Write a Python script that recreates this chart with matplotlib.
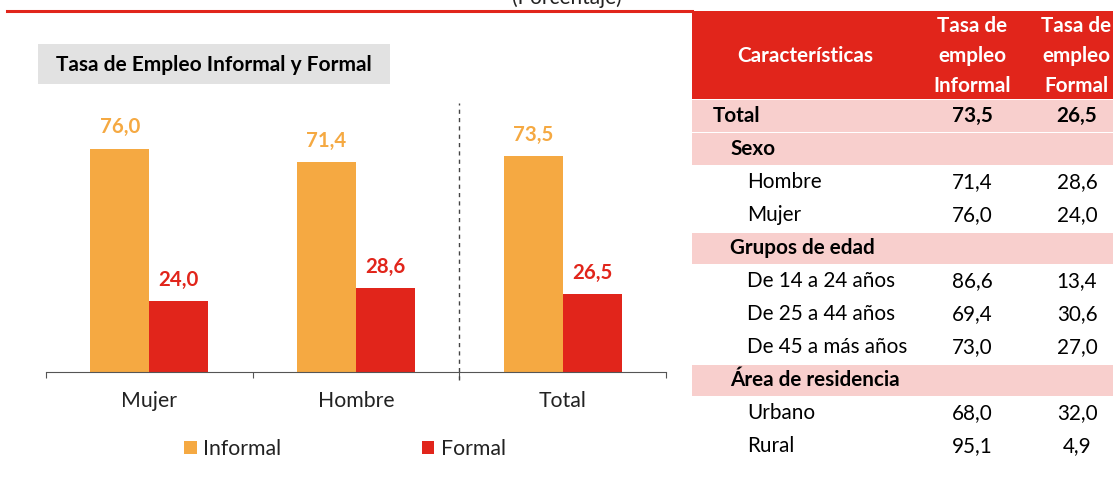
import matplotlib.pyplot as plt
import matplotlib.patches as mpatches
from matplotlib.lines import Line2D
import numpy as np

plt.rcParams['font.family'] = ['Lato', 'DejaVu Sans']

# Data
categories = ['Mujer', 'Hombre', 'Total']
informal = [76.0, 71.4, 73.5]
formal = [24.0, 28.6, 26.5]

row_labels = ['Total', 'Sexo', 'Hombre', 'Mujer', 'Grupos de edad', 'De 14 a 24 años',
              'De 25 a 44 años', 'De 45 a más años', 'Área de residencia', 'Urbano', 'Rural']
row_kind = ['total', 'group', 'item', 'item', 'group', 'item', 'item', 'item', 'group', 'item', 'item']
tab_informal = [73.5, None, 71.4, 76.0, None, 86.6, 69.4, 73.0, None, 68.0, 95.1]
tab_formal = [26.5, None, 28.6, 24.0, None, 13.4, 30.6, 27.0, None, 32.0, 4.9]

ORANGE = '#F5A942'
RED = '#E1251B'
PINK = '#F8CFCD'
GRAY = '#E2E2E2'

W, H = 1115, 484
def fx(x):
    return x / W
def fy(y):
    return 1 - y / H
def fmt(v):
    return f'{v:.1f}'.replace('.', ',')

fig = plt.figure(figsize=(W / 100, H / 100), dpi=100)

# top rule and subtitle (cut by the top edge, as in the source)
fig.add_artist(Line2D([fx(7), fx(692)], [fy(11), fy(11)], color=RED, lw=2.2))
fig.text(fx(567), fy(-2), '(Porcentaje)', ha='center', va='center', fontsize=15, color='#222222')

# title box
fig.add_artist(mpatches.Rectangle((fx(38), fy(84)), fx(390) - fx(38), fy(44) - fy(84),
                                  transform=fig.transFigure, color=GRAY, lw=0))
fig.text(fx(214), fy(65), 'Tasa de Empleo Informal y Formal', ha='center', va='center',
         fontsize=15, fontweight='bold', color='black')

# bar chart
ax = fig.add_axes([fx(46), fy(372), (666 - 46) / W, (372 - 100) / H])
x = np.arange(len(categories))
width = 0.285
bars1 = ax.bar(x - width / 2, informal, width, color=ORANGE, label='Informal')
bars2 = ax.bar(x + width / 2, formal, width, color=RED, label='Formal')
ax.set_xlim(-0.5, 2.5)
ax.set_ylim(0, 92.5)
for s in ['top', 'left', 'right']:
    ax.spines[s].set_visible(False)
ax.spines['bottom'].set_color('#555555')
ax.set_yticks([])
ax.set_xticks([-0.5, 0.5, 1.5, 2.5])
ax.set_xticklabels([])
ax.tick_params(axis='x', which='major', length=4.5, color='#555555', direction='out')
ax.set_xticks(x, minor=True)
ax.set_xticklabels(categories, minor=True, fontsize=15.3, color='#222222')
ax.tick_params(axis='x', which='minor', length=0, pad=14)
ax.axvline(1.5, ymin=-0.03, ymax=0.99, color='#444444', lw=1, ls=(0, (3, 3)), clip_on=False)

for bars, col in [(bars1, ORANGE), (bars2, RED)]:
    for bar in bars:
        h = bar.get_height()
        ax.annotate(fmt(h), xy=(bar.get_x() + bar.get_width() / 2, h), xytext=(0, 8),
                    textcoords='offset points', ha='center', va='bottom',
                    fontsize=14.7, fontweight='bold', color=col)

fig.legend(handles=[bars1, bars2], labels=['Informal', 'Formal'], loc='center',
           bbox_to_anchor=(fx(345), fy(449)), ncol=2, frameon=False, fontsize=15.3,
           handlelength=0.6, handleheight=0.6, handletextpad=0.3, columnspacing=6.6,
           labelcolor='#222222')

# table
fig.add_artist(mpatches.Rectangle((fx(692), fy(99)), fx(1113) - fx(692), fy(11) - fy(99),
                                  transform=fig.transFigure, color=RED, lw=0))
fig.text(fx(805), fy(56), 'Características', ha='center', va='center', fontsize=14.9,
         fontweight='bold', color='white')
for cx, word in [(972, 'Informal'), (1076, 'Formal')]:
    for ly, line in zip([26, 56, 86], ['Tasa de', 'empleo', word]):
        fig.text(fx(cx), fy(ly), line, ha='center', va='center', fontsize=14.9,
                 fontweight='bold', color='white')

pitch = 33.0
y0 = 116.0
indent = {'total': 713, 'group': 730, 'item': 747}
for i, (lab, kind, vi, vf) in enumerate(zip(row_labels, row_kind, tab_informal, tab_formal)):
    cy = y0 + i * pitch
    bold = kind in ('total', 'group')
    if bold:
        fig.add_artist(mpatches.Rectangle((fx(692), fy(cy + 16)), fx(1113) - fx(692),
                                          fy(cy - 15.5) - fy(cy + 16),
                                          transform=fig.transFigure, color=PINK, lw=0))
    fw = 'bold' if bold else 'normal'
    fig.text(fx(indent[kind]), fy(cy), lab, ha='left', va='center', fontsize=14.9,
             fontweight=fw, color='black')
    if vi is not None:
        fig.text(fx(972), fy(cy), fmt(vi), ha='center', va='center', fontsize=14.9,
                 fontweight=fw, color='black')
        fig.text(fx(1077), fy(cy), fmt(vf), ha='center', va='center', fontsize=14.9,
                 fontweight=fw, color='black')

fig.savefig('out.png', dpi=100)
